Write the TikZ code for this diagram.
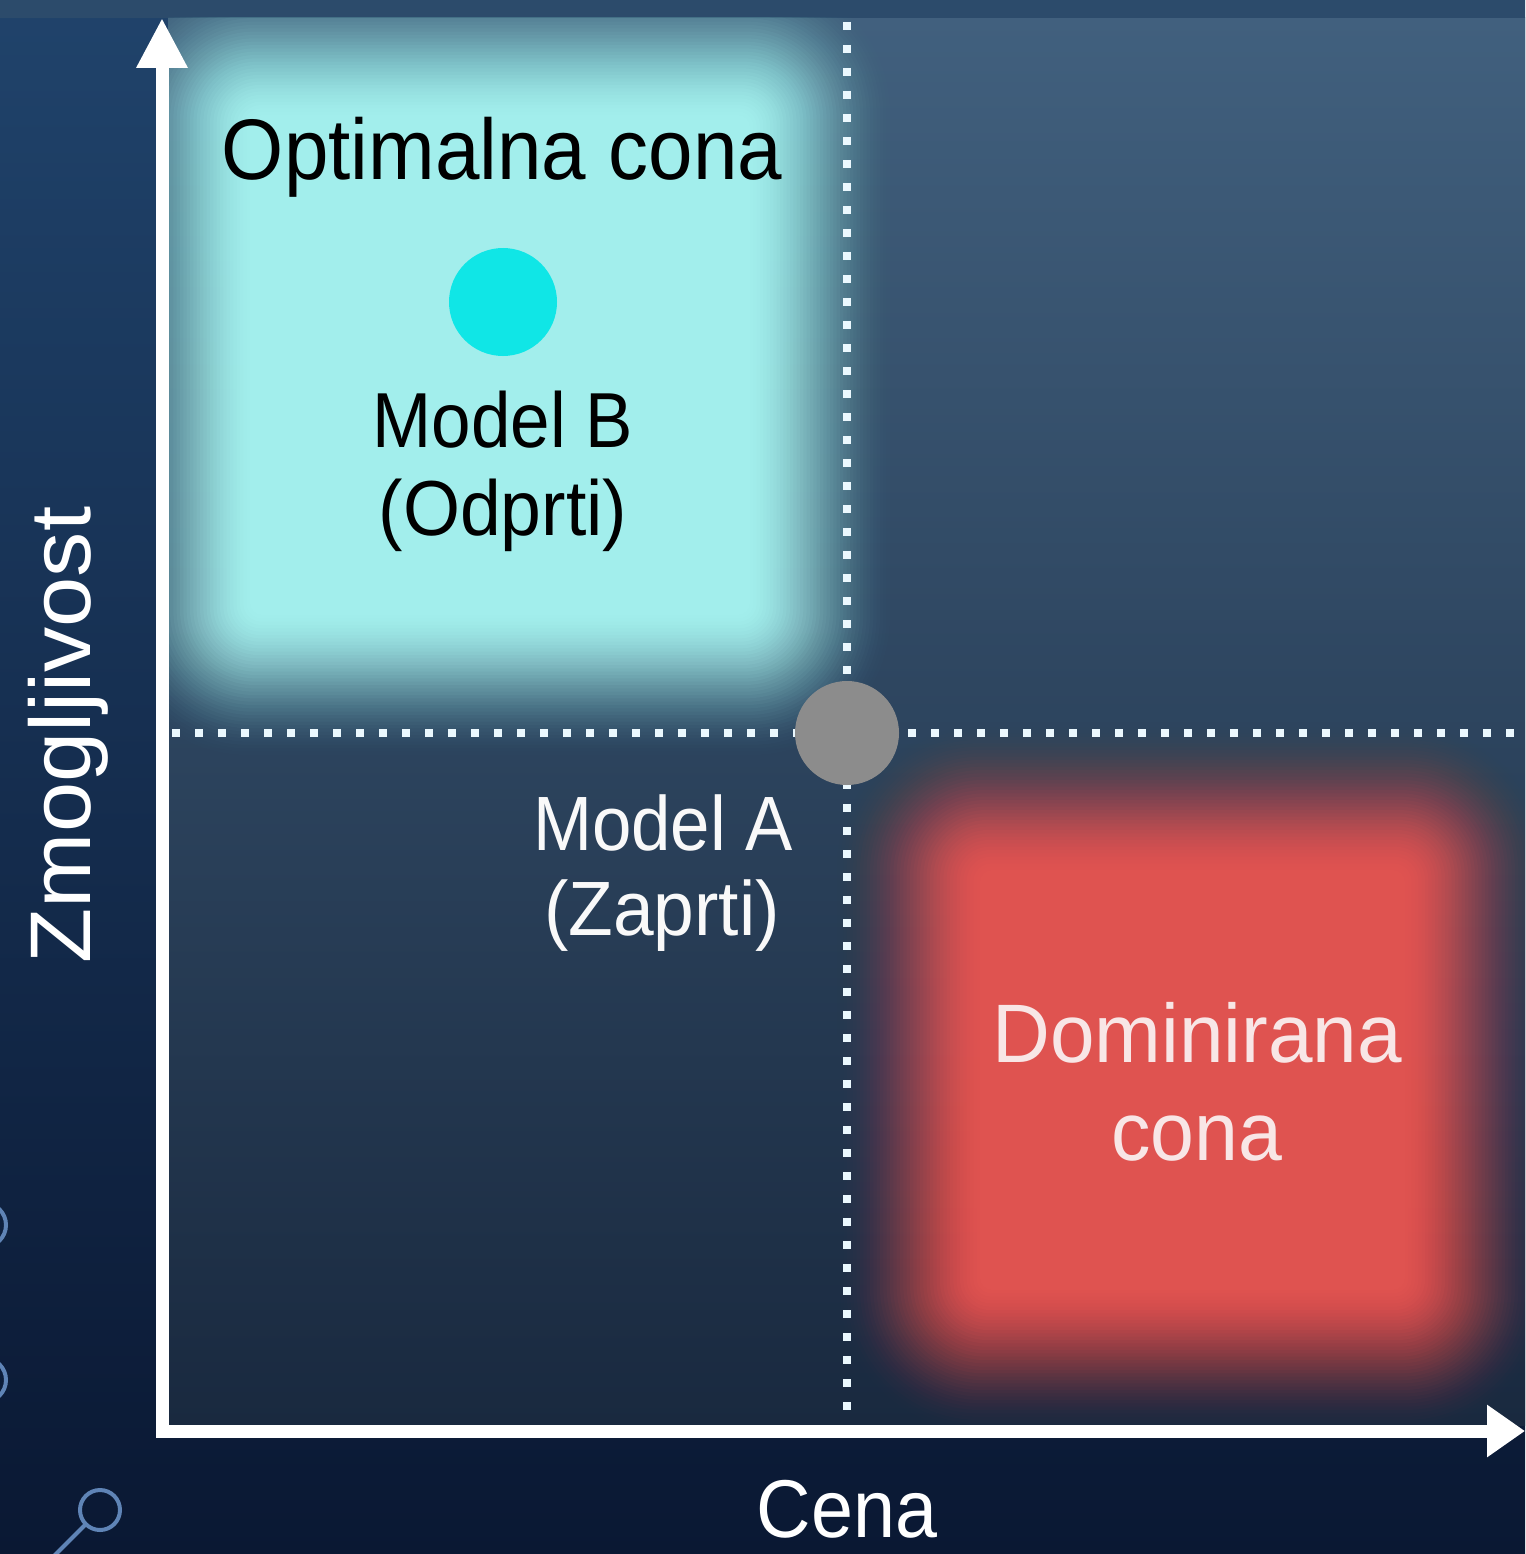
\documentclass[tikz,border=0pt]{standalone}
\usepackage{fontspec}
\setmainfont{Liberation Sans}
\usepackage{graphicx}
\usetikzlibrary{arrows.meta}
\definecolor{bgtop}{HTML}{20436B}
\definecolor{bgbot}{HTML}{0A1833}
\definecolor{plottop}{HTML}{41607E}
\definecolor{plotbot}{HTML}{19293F}
\definecolor{strip}{HTML}{2C4B6B}
\definecolor{glowcyan}{HTML}{A2EEEC}
\definecolor{glowred}{HTML}{DF5350}
\definecolor{dotcyan}{HTML}{10E6E6}
\definecolor{dotgray}{HTML}{8C8C8C}
\definecolor{deco}{HTML}{5F84B6}
\definecolor{pinkwhite}{HTML}{F8E6E6}
\newcommand{\sx}[2]{\scalebox{#1}[1]{#2}}
% soft glow (smoothstep ramp): colour, x1, y1, x2, y2 (full-intensity rectangle), ramp width
\newcommand{\softglow}[6]{%
  \foreach \k in {1,...,45} {
    \pgfmathsetmacro\tA{(\k-1)/45}
    \pgfmathsetmacro\tB{\k/45}
    \pgfmathsetmacro\cA{3*\tA*\tA-2*\tA*\tA*\tA}
    \pgfmathsetmacro\cB{3*\tB*\tB-2*\tB*\tB*\tB}
    \pgfmathsetmacro\op{min(1,(\cB-\cA)/(1-\cA))}
    \pgfmathsetmacro\ex{#6*(45-\k)/45}
    \fill[#1, fill opacity=\op, rounded corners={(\ex*0.9+12)*1pt}]
      (#2-\ex, #3-\ex) rectangle (#4+\ex, #5+\ex);
  }%
}
\begin{document}
\begin{tikzpicture}[x=1pt,y=-1pt,
  lbl/.style={inner sep=0pt, anchor=base},
  axisline/.style={line width=13pt, white, line join=miter},
  dotline/.style={line width=8pt, color=white!92!cyan, dash pattern=on 8pt off 15pt},
  decoline/.style={line width=4pt, deco}
]
\useasboundingbox (0,0) rectangle (1525,1554);
% background
\shade[top color=bgtop, bottom color=bgbot] (0,0) rectangle (1525,1554);
\shade[top color=plottop, bottom color=plotbot] (168,18) rectangle (1525,1425);
\fill[strip] (0,0) rectangle (1525,18);
% glows
\begin{scope}
  \clip (168,18) rectangle (1525,1425);
  \softglow{glowcyan}{250}{115}{750}{615}{150}
  \softglow{glowred}{980}{870}{1405}{1290}{150}
\end{scope}
% left decorations
\draw[decoline] (-16,1225) circle[radius=22];
\draw[decoline] (-16,1380) circle[radius=22];
\draw[decoline] (100,1510) circle[radius=20];
\draw[decoline] (86,1524) -- (50,1560);
% coordinates
\coordinate (O) at (162,1431);
\coordinate (ytop) at (162,18);
\coordinate (xend) at (1525,1431);
\coordinate (vtop) at (847,22);
\coordinate (vbot) at (847,1420);
\coordinate (hl) at (172,733);
\coordinate (hr) at (1525,733);
% dotted quadrant lines
\draw[dotline] (vtop) -- (vbot);
\draw[dotline] (hl) -- (hr);
% axes
\draw[axisline, {Triangle[length=50pt,width=48pt]}-{Triangle[length=38pt,width=50pt]}] (ytop) -- (O) -- (xend);
% points
\node[circle, fill=dotcyan, minimum size=108pt, inner sep=0pt] (modelB) at (503,302) {};
\node[circle, fill=dotgray, minimum size=104pt, inner sep=0pt] (modelA) at (847,733) {};
% labels
\node[lbl, text=black, font=\fontsize{86pt}{90pt}\selectfont] (optzone) at (502,180) {\sx{0.93}{Optimalna cona}};
\node[lbl, text=black, font=\fontsize{78pt}{90pt}\selectfont] (modelBa) at (503,447) {\sx{0.91}{Model B}};
\node[lbl, text=black, font=\fontsize{78pt}{90pt}\selectfont] (modelBb) at (503,535) {\sx{0.94}{(Odprti)}};
\node[lbl, text=white!95!gray, font=\fontsize{77pt}{90pt}\selectfont] (modelAa) at (663,850) {\sx{0.92}{Model A}};
\node[lbl, text=white!95!gray, font=\fontsize{77pt}{90pt}\selectfont] (modelAb) at (662,935) {\sx{0.95}{(Zaprti)}};
\node[lbl, text=pinkwhite, font=\fontsize{83pt}{90pt}\selectfont] (domzone) at (1197,1062) {\sx{0.965}{Dominirana}};
\node[lbl, text=pinkwhite, font=\fontsize{83pt}{90pt}\selectfont] (domzoneb) at (1197,1160) {\sx{0.95}{cona}};
\node[lbl, text=white, font=\fontsize{86pt}{90pt}\selectfont, rotate=90] (ylab) at (90,735) {\sx{1.05}{Zmogljivost}};
\node[lbl, text=white, font=\fontsize{82pt}{90pt}\selectfont] (xlab) at (847,1537) {\sx{0.92}{Cena}};
\end{tikzpicture}
\end{document}
